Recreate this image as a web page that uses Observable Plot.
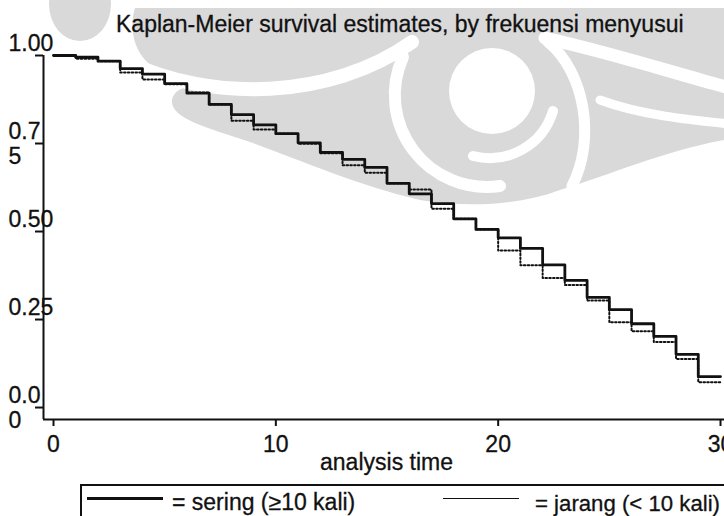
<!DOCTYPE html>
<html>
<head>
<meta charset="utf-8">
<script src="https://cdn.jsdelivr.net/npm/d3@7"></script>
<script src="https://cdn.jsdelivr.net/npm/@observablehq/plot@0.6"></script>
<style>
  html, body { margin: 0; padding: 0; background: #fff; overflow: hidden; }
  body { width: 724px; height: 516px; position: relative; font-family: "Liberation Sans", Arial, sans-serif; color: #111; }
  #wm { position: absolute; left: 0; top: 0; z-index: 0; }
  #main { position: relative; z-index: 1; width: 724px; height: 516px; }
  #title { height: 30px; line-height: 30px; font-size: 23px; padding-left: 116px; white-space: nowrap; position: relative; top: 9px; z-index: 2; -webkit-text-stroke: 0.3px #111; }
  #chart svg { overflow: visible; display: block; }
  #chart svg text { stroke: #111; stroke-width: 0.3px; }
  #legend { position: relative; height: 32px; }
  #legend .box { position: absolute; left: 80px; top: 0; width: 680px; height: 60px; border: 2px solid #111; box-sizing: border-box; background: #fff; }
  #legend .sw { position: absolute; background: #111; }
  #legend .lab { position: absolute; line-height: 23px; white-space: nowrap; -webkit-text-stroke: 0.3px #111; }
</style>
</head>
<body>
<svg id="wm" width="724" height="516">
  <g fill="#d9d9d9">
    <ellipse cx="80" cy="4" rx="31" ry="37"/>
    <path d="M135,8 L724,8 L724,140 C660,152 610,175 560,190 C520,205 470,208 420,200 C360,186 300,160 250,142 C205,127 170,118 172,100 C174,88 190,85 200,85 L160,70 C135,60 128,30 135,8 Z"/>
  </g>
  <g fill="none" stroke="#fff" stroke-linecap="round">
    <path d="M128,62 C210,102 330,100 412,42" stroke-width="14"/>
    <path d="M403,57 A92,92 0 0 0 500,186" stroke-width="12"/>
    <path d="M553,111 A66,66 0 0 1 473,156" stroke-width="10"/>
    <path d="M545,38 C620,55 680,75 730,88" stroke-width="13"/>
    <path d="M548,42 C585,72 596,140 572,186" stroke-width="11"/>
    <path d="M600,100 C640,115 690,120 730,124" stroke-width="9"/>
  </g>
  <circle cx="492" cy="91" r="43" fill="#fff"/>
</svg>
<div id="main">
  <div id="title">Kaplan-Meier survival estimates, by frekuensi menyusui</div>
  <div id="chart"></div>
  <div id="legend">
    <div class="box"></div>
    <div class="sw" style="left:87px;top:13px;width:76px;height:3px"></div>
    <div class="lab" style="left:172px;top:7px;font-size:23px">= sering (≥10 kali)</div>
    <div class="sw" style="left:443px;top:14px;width:76px;height:1.2px"></div>
    <div class="lab" style="left:535px;top:7.5px;font-size:22.2px">= jarang (&lt; 10 kali)</div>
  </div>
</div>
<script>
// Step times (analysis time) and Kaplan-Meier survival estimates per group
const times = [0,1,2,3,4,5,6,7,8,9,10,11,12,13,14,15,16,17,18,19,20,21,22,23,24,25,26,27,28,29,30];
const sering = [1.000,0.995,0.984,0.963,0.947,0.920,0.893,0.861,0.832,0.803,0.778,0.752,0.725,0.705,0.682,0.637,0.607,0.579,0.536,0.506,0.482,0.452,0.405,0.361,0.313,0.278,0.238,0.202,0.151,0.088,0.088];
const jarang = [1.000,0.991,0.984,0.952,0.932,0.918,0.895,0.861,0.815,0.790,0.778,0.749,0.722,0.688,0.667,0.637,0.619,0.565,0.536,0.506,0.446,0.404,0.368,0.348,0.304,0.242,0.217,0.186,0.138,0.072,0.072];

const xTicks = [0, 10, 20, 30];
const yTicks = [0, 0.25, 0.5, 0.75, 1];
const yTickLabels = ["0.00", "0.25", "0.50", "0.75", "1.00"];
const wrappedLabels = new Set(["0.00", "0.75"]); // labels broken over two lines in the original

const xMin = -0.45, xMax = 30.18, yMin = -0.034, yMax = 1;

const rowsSering = times.map((t, i) => ({t, s: sering[i]}));
const rowsJarang = times.map((t, i) => ({t, s: jarang[i]}));

const yLab = new Map(yTicks.map((v, i) => [v, yTickLabels[i]]));
const fmtY = d => {
  const s = yLab.get(d);
  return wrappedLabels.has(s) ? s.slice(0, 3) + "\n" + s.slice(3) : s + "\n";
};

const chart = Plot.plot({
  width: 724,
  height: 454,
  marginLeft: 43,
  marginRight: 0,
  marginTop: 25,
  marginBottom: 65,
  x: {domain: [xMin, xMax]},
  y: {domain: [yMin, yMax]},
  style: {background: "transparent", fontFamily: "Liberation Sans, Arial, sans-serif", fontSize: "23px", color: "#111", overflow: "visible"},
  marks: [
    Plot.ruleX([xMin], {stroke: "#111", strokeWidth: 2}),
    Plot.ruleY([yMin], {stroke: "#111", strokeWidth: 2}),
    Plot.axisX({ticks: xTicks, tickSize: 7, tickPadding: 9, strokeWidth: 2, fontSize: 23, label: null, tickFormat: d => String(d)}),
    Plot.axisY({ticks: yTicks, tickSize: 8, tickPadding: 27, strokeWidth: 2, fontSize: 23, textAnchor: "start", lineHeight: 1.08, label: null, tickFormat: fmtY}),
    Plot.text(["analysis time"], {frameAnchor: "bottom", dx: 2.5, dy: 43.6, lineAnchor: "middle", fontSize: 23, fill: "#111"}),
    Plot.line(rowsJarang, {x: "t", y: "s", curve: "step-after", stroke: "#111", strokeWidth: 2, strokeDasharray: "1.6,2.2"}),
    Plot.line(rowsSering, {x: "t", y: "s", curve: "step-after", stroke: "#111", strokeWidth: 2.8})
  ]
});
document.getElementById("chart").appendChild(chart);
</script>
</body>
</html>
